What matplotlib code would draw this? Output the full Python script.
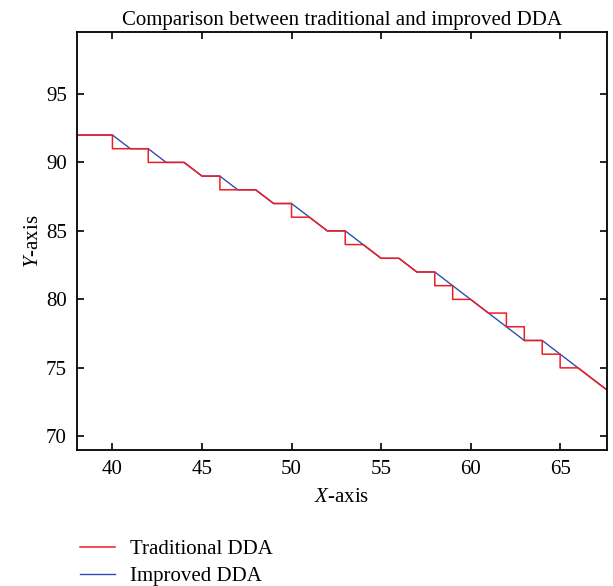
import matplotlib
matplotlib.use("Agg")
import matplotlib.pyplot as plt

# vertices
trad_x = [38, 40, 40, 42, 42, 44, 45, 46, 46, 48, 49, 50, 50, 51, 52, 53, 53, 54, 55, 56,
          57, 58, 58, 59, 59, 60, 61, 62, 62, 63, 63, 64, 64, 65, 65, 66, 68]
trad_y = [92, 92, 91, 91, 90, 90, 89, 89, 88, 88, 87, 87, 86, 86, 85, 85, 84, 84, 83, 83,
          82, 82, 81, 81, 80, 80, 79, 79, 78, 78, 77, 77, 76, 76, 75, 75, 73]

impr_x = [38, 40, 41, 42, 43, 44, 45, 46, 47, 48, 49, 50, 51, 52, 53, 54, 55, 56, 57, 58,
          60, 61, 63, 64, 66, 68]
impr_y = [92, 92, 91, 91, 90, 90, 89, 89, 88, 88, 87, 87, 86, 85, 85, 84, 83, 83, 82, 82,
          80, 79, 77, 77, 75, 73]

xticks = [40, 45, 50, 55, 60, 65]
yticks = [70, 75, 80, 85, 90, 95]

plt.rcParams['font.family'] = ['Liberation Serif', 'DejaVu Serif']
plt.rcParams['mathtext.fontset'] = 'custom'
plt.rcParams['mathtext.it'] = 'Liberation Serif:italic'
plt.rcParams['mathtext.rm'] = 'Liberation Serif'

fig = plt.figure(figsize=(6.13, 5.86), dpi=100)
ax = fig.add_axes([0.125, 0.232, 0.8647, 0.7129])

l2, = ax.plot(impr_x, impr_y, color='#2a4fb0', lw=1.0, label='Improved DDA')
l1, = ax.plot(trad_x, trad_y, color='#f01c24', lw=1.1, label='Traditional DDA')

ax.set_xlim(38, 67.6)
ax.set_ylim(69, 99.5)
ax.set_xticks(xticks)
ax.set_yticks(yticks)
ax.tick_params(direction='in', length=5, width=1.2, top=True, right=True,
               labelsize=15, pad=7)
for s in ax.spines.values():
    s.set_linewidth(1.3)

ax.set_title('Comparison between traditional and improved DDA', fontsize=15, pad=5)
ax.set_xlabel('$X$-axis', fontsize=15, labelpad=7)
ax.set_ylabel('$Y$-axis', fontsize=15, labelpad=2)

fig.legend([l1, l2], ['Traditional DDA', 'Improved DDA'], loc='upper left',
           bbox_to_anchor=(0.13, 0.079), frameon=False, fontsize=15,
           handlelength=1.7, handletextpad=0.72, labelspacing=0.36,
           borderaxespad=0, borderpad=0)

fig.savefig('out.png', dpi=100)
